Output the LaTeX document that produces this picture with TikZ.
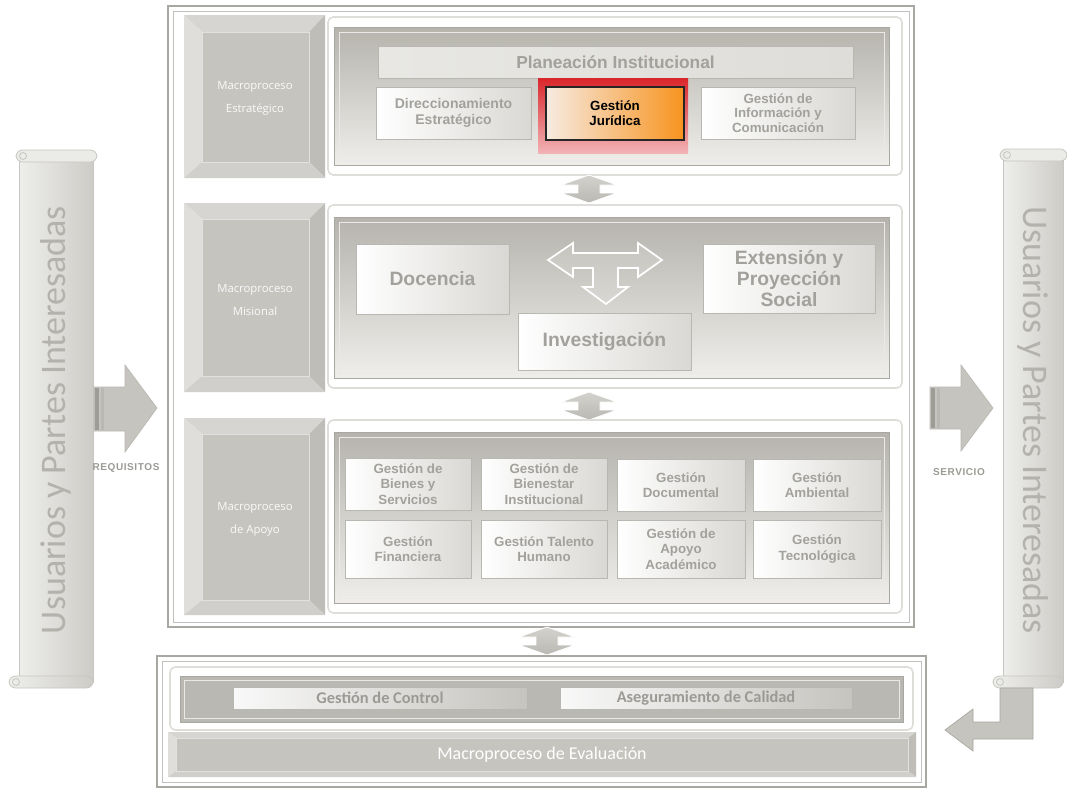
\documentclass[tikz,border=0pt]{standalone}
\usepackage{fontspec}
\setmainfont{Liberation Sans}
\newfontfamily\nb{Liberation Sans}
\newfontfamily\nbsp{Liberation Sans}[LetterSpace=6]
\newfontfamily\carl{Carlito}
\newfontfamily\osans{Open Sans}
\usetikzlibrary{calc,shadows}
\definecolor{frame}{HTML}{A9A7A1}
\definecolor{pgray}{HTML}{C6C4BF}
\definecolor{ptop}{HTML}{D6D5D1}
\definecolor{pleft}{HTML}{DFDEDB}
\definecolor{pright}{HTML}{BFBDB8}
\definecolor{pbot}{HTML}{D0CFCB}
\definecolor{plight}{HTML}{DEDDD9}
\definecolor{pmid}{HTML}{D3D2CD}
\definecolor{pdark}{HTML}{BAB8B2}
\definecolor{txtg}{HTML}{A3A19C}
\definecolor{boxr}{HTML}{D9D8D4}
\definecolor{boxb}{HTML}{B9B7B1}
\definecolor{rimc}{HTML}{DEDDD9}
\definecolor{welltop}{HTML}{B5B3AC}
\definecolor{wellbot}{HTML}{EFEEEB}
\definecolor{jurred}{HTML}{D9262B}
\definecolor{jurpink}{HTML}{F2B3B5}
\definecolor{jurorange}{HTML}{F7931E}
\definecolor{jurlight}{HTML}{F7EBE2}
\definecolor{scrtxt}{HTML}{B4B2AC}
\definecolor{scrl}{HTML}{EEEEEC}
\definecolor{scrr}{HTML}{CDCCC7}
\definecolor{scrb}{HTML}{C8C6C1}
\definecolor{lbl}{HTML}{9C9A95}
\newcommand\bevelpanel[8]{%
 \fill[ptop] (#1,#2) -- (#3,#2) -- (#7,#6) -- (#5,#6) -- cycle;
 \fill[pleft] (#1,#2) -- (#5,#6) -- (#5,#8) -- (#1,#4) -- cycle;
 \fill[pright] (#3,#2) -- (#3,#4) -- (#7,#8) -- (#7,#6) -- cycle;
 \fill[pbot] (#1,#4) -- (#5,#8) -- (#7,#8) -- (#3,#4) -- cycle;
 \fill[pgray] (#5,#6) rectangle (#7,#8);
 \draw[white!50!pgray, line width=0.5pt] (#5,#6) rectangle (#7,#8);}
\newcommand\myscroll[4]{%
 \draw[scrb, line width=0.6pt, left color=scrl, right color=scrr] (#1,#2+6) rectangle (#3,#4-6);
 \draw[scrb, line width=0.6pt, fill=plight!60!white, rounded corners=5pt] (#1-3,#2) rectangle (#3+4,#2+12);
 \draw[scrb, line width=0.6pt] (#1+4,#2+6) circle[radius=3.5];
 \draw[scrb, line width=0.6pt, left color=scrl, right color=scrr, rounded corners=5pt] (#1-10,#4-12) rectangle (#3,#4);
 \draw[scrb, line width=0.6pt] (#1-3,#4-6) circle[radius=3.5];}
\tikzset{
 wh/.style 2 args={minimum width=#1*0.75pt, minimum height=#2*0.75pt},
 box/.style={draw=boxb, line width=0.6pt, left color=white, right color=boxr, inner sep=0pt, align=center, text=txtg,
   font=\nb\bfseries\fontsize{10}{11.5}\selectfont, drop shadow={shadow xshift=1pt, shadow yshift=-1pt, opacity=0.3, fill=gray}},
 bigbox/.style={box, font=\nb\bfseries\fontsize{14.5}{16}\selectfont},
 rim/.style={draw=rimc, line width=1.2pt, fill=white, rounded corners=4pt},
 well/.style={draw=frame, line width=0.6pt, top color=welltop, bottom color=wellbot},
 welline/.style={draw=white!75!frame, line width=0.5pt},
 mlabel/.style={text=white!96!gray, align=center, font=\osans\fontsize{8.5}{17}\selectfont},
 vda/.pic={\draw[white, line width=0.6pt, top color=pmid, bottom color=pdark]
   (0,-14) -- (28,-4) -- (11,-4) -- (11,4) -- (28,4) -- (0,14) -- (-28,4) -- (-11,4) -- (-11,-4) -- (-28,-4) -- cycle;},
 bigarrow/.style={draw=pdark, line width=0.5pt, fill=pgray},
 sidelabel/.style={text=lbl, font=\nbsp\bfseries\fontsize{7.5}{9}\selectfont},
 usuarios/.style={text=scrtxt, font=\carl\fontsize{27}{27}\selectfont},
 barbox/.style={box, left color=white!95!gray, right color=pgray, font=\carl\bfseries\fontsize{12.3}{13}\selectfont, text=lbl},
}
\begin{document}
\begin{tikzpicture}[x=0.75pt,y=-0.75pt]
\useasboundingbox[fill=white] (0,0) rectangle (1067,789);

% main frame
\draw[frame, line width=1.6pt, fill=white] (168,6) rectangle (914,627);
\draw[frame!70!white, line width=0.6pt] (173,11) rectangle (909,622);

% ---------- Estrategico ----------
\bevelpanel{184}{15}{325}{178}{202}{32}{309}{162}
\node[mlabel] (lest) at (255,98) {Macroproceso\\Estratégico};
\draw[rim] (328,17) rectangle (902,175);
\draw[well] (334,27) rectangle (889,165);
\draw[welline] (339,32) rectangle (884,160);
\node[box, wh={475}{32}, left color=plight!70!white, right color=plight, font=\nb\bfseries\fontsize{13}{15}\selectfont] (plan) at (615.5,62) {Planeación Institucional};
\node[box, wh={155}{52}, font=\nb\bfseries\fontsize{10.5}{12}\selectfont] (dir) at (453.5,113) {Direccionamiento\\Estratégico};
\node[wh={150}{75}, inner sep=0pt, top color=jurred, bottom color=jurpink] (jurbg) at (613,115.5) {};
\node[wh={138}{53}, inner sep=0pt, draw=black!85, line width=1.6pt, left color=jurlight, right color=jurorange,
  text=black, align=center, font=\nb\bfseries\fontsize{10}{11.5}\selectfont] (jur) at (615,113.5) {Gestión\\Jurídica};
\node[box, wh={154}{52}, font=\nb\bfseries\fontsize{10}{11}\selectfont] (info) at (778,113) {Gestión de\\Información y\\Comunicación};

\pic at (589,189) {vda};

% ---------- Misional ----------
\bevelpanel{184}{203}{325}{392}{202}{219}{309}{376}
\node[mlabel] (lmis) at (255,300) {Macroproceso\\Misional};
\draw[rim] (328,205) rectangle (902,388);
\draw[well] (334,217) rectangle (889,378);
\draw[welline] (339,222) rectangle (884,373);
\node[bigbox, wh={153}{70}] (doc) at (432.5,279) {Docencia};
\node[bigbox, wh={172}{69}] (ext) at (789,278.5) {Extensión y\\Proyección\\Social};
\node[bigbox, wh={173}{57}] (inv) at (604.5,341.5) {Investigación};
\draw[white, line width=1.3pt, fill=white, fill opacity=0.12]
 (548,260) -- (573,243) -- (573,253) -- (638,253) -- (638,243) -- (662,260) -- (638,277) -- (638,268)
 -- (618,268) -- (618,287) -- (628,287) -- (606,304) -- (583,287) -- (593,287) -- (593,268)
 -- (573,268) -- (573,277) -- cycle;

\pic at (589,406) {vda};

% ---------- Apoyo ----------
\bevelpanel{184}{418}{325}{615}{202}{434}{309}{600}
\node[mlabel] (lapo) at (255,519) {Macroproceso\\de Apoyo};
\draw[rim] (328,420) rectangle (902,613);
\draw[well] (334,432) rectangle (889,603);
\draw[welline] (339,437) rectangle (884,598);
\node[box, wh={126}{52}] (g11) at (408,484) {Gestión de\\Bienes y\\Servicios};
\node[box, wh={126}{52}] (g12) at (544,484) {Gestión de\\Bienestar\\Institucional};
\node[box, wh={128}{52}] (g13) at (681,485) {Gestión\\Documental};
\node[box, wh={128}{52}] (g14) at (817,485) {Gestión\\Ambiental};
\node[box, wh={126}{58}] (g21) at (408,549) {Gestión\\Financiera};
\node[box, wh={126}{58}] (g22) at (544,549) {Gestión Talento\\Humano};
\node[box, wh={128}{58}] (g23) at (681,549) {Gestión de\\Apoyo\\Académico};
\node[box, wh={128}{58}] (g24) at (817,549) {Gestión\\Tecnológica};

\pic at (547,641) {vda};

% ---------- Evaluacion ----------
\draw[frame, line width=1.6pt, fill=white] (157,656) rectangle (926,787);
\draw[frame!70!white, line width=0.6pt] (162,661) rectangle (921,782);
\draw[rim] (170,667) rectangle (913,730);
\draw[draw=frame, line width=0.6pt, fill=pdark] (180,676) rectangle (903,722);
\draw[welline] (184,680) rectangle (899,718);
\node[barbox, wh={294}{22}] (ctrl) at (380,698) {Gestión de Control};
\node[barbox, wh={292}{22}] (aseg) at (706,698) {Aseguramiento de Calidad};
\bevelpanel{168}{732}{916}{777}{176}{738}{908}{771}
\node[text=white, font=\carl\fontsize{13.5}{15}\selectfont] (evl) at (542,755) {Macroproceso de Evaluación};

% ---------- scrolls ----------
\myscroll{19}{150}{93}{688}
\node[usuarios, rotate=90] (uleft) at (56,420) {Usuarios y Partes Interesadas};
\myscroll{1003}{149}{1063}{688}
\node[usuarios, rotate=-90] (uright) at (1033,420) {Usuarios y Partes Interesadas};

% ---------- side arrows ----------
\draw[bigarrow] (94,387) -- (125,387) -- (125,365) -- (157,408) -- (125,452) -- (125,431) -- (94,431) -- cycle;
\fill[pdark!85!black] (95,388) rectangle (99,430);
\fill[pdark] (101,388) rectangle (104,430);
\node[sidelabel] (req) at (126,468) {REQUISITOS};
\draw[bigarrow] (930,387) -- (961,387) -- (961,365) -- (993,408) -- (961,451) -- (961,429) -- (930,429) -- cycle;
\fill[pdark!85!black] (931,388) rectangle (935,428);
\fill[pdark] (937,388) rectangle (940,428);
\node[sidelabel] (serv) at (959,472) {SERVICIO};

% bent arrow to evaluation
\draw[bigarrow, draw=pdark!90!black] (1000,688) -- (1033,688) -- (1033,739) -- (973,739) -- (973,751) -- (945,730) -- (973,709) -- (973,722) -- (1000,722) -- cycle;
\end{tikzpicture}
\end{document}
